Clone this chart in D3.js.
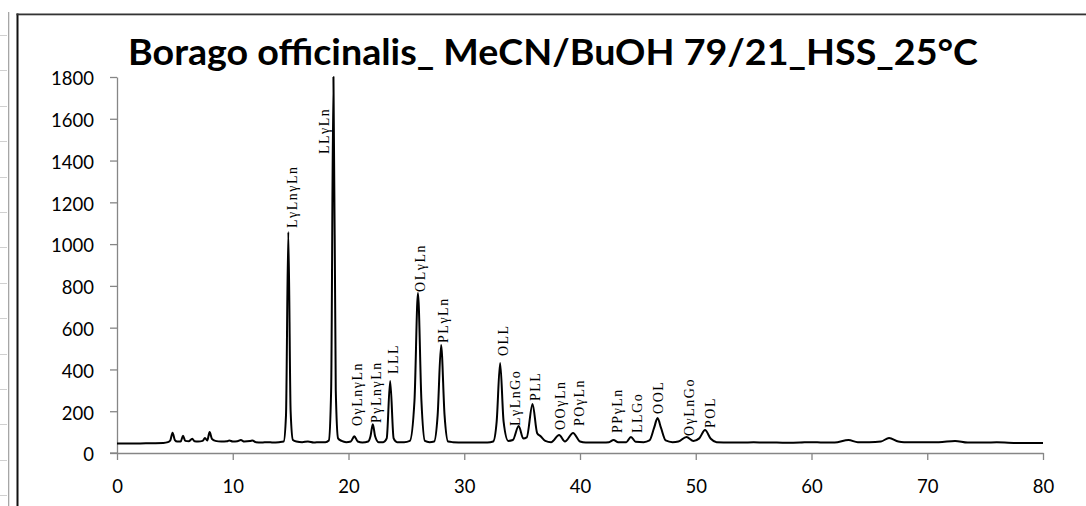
<!DOCTYPE html>
<html><head><meta charset="utf-8">
<script src="https://cdn.jsdelivr.net/npm/d3@7"></script>
<style>
html,body{margin:0;padding:0;background:#fff;}
svg{display:block;}
</style></head>
<body>
<svg id="chart" width="1086" height="506"></svg>
<script>
const titleText = "Borago officinalis_ MeCN/BuOH 79/21_HSS_25°C";
const xTicks = [0,10,20,30,40,50,60,70,80];
const yTicks = [0,200,400,600,800,1000,1200,1400,1600,1800];

// [retention time (min), detector response]
const trace = [
[0,45],[1,45],[2,46],[3,47],[4,48],[4.4,52],[4.6,60],[4.8,97],[5.0,62],[5.2,55],[5.5,55],[5.7,82],[5.9,58],[6.2,56],[6.5,68],[6.7,56],[7.0,55],[7.4,58],[7.6,72],[7.8,60],[8.0,100],[8.2,68],[8.5,58],[9.0,55],[9.5,56],[9.7,60],[10.0,55],[10.4,56],[10.7,62],[11.0,55],[11.5,57],[11.7,60],[12.0,52],[12.5,50],[13.0,52],[13.5,50],[14.0,52],[14.4,55],[14.6,180],[14.8,1058],[15.0,200],[15.2,62],[15.5,55],[16,52],[16.5,55],[17,50],[17.5,52],[18,52],[18.3,60],[18.5,300],[18.7,1800],[18.9,300],[19.1,70],[19.4,58],[19.8,52],[20.2,55],[20.5,80],[20.8,55],[21.2,50],[21.7,55],[21.9,80],[22.1,138],[22.3,80],[22.6,52],[23.0,52],[23.3,70],[23.6,345],[23.9,70],[24.2,52],[24.8,52],[25.3,58],[25.7,250],[26.0,766],[26.3,250],[26.6,58],[27.0,52],[27.4,55],[27.7,180],[28.0,517],[28.3,180],[28.6,55],[29,52],[30,50],[31,50],[32,50],[32.5,55],[32.8,150],[33.1,431],[33.4,150],[33.8,58],[34.2,62],[34.7,129],[35.1,70],[35.4,75],[35.9,235],[36.3,95],[36.6,80],[37.0,58],[37.5,52],[38.2,86],[38.7,55],[39.4,96],[40.0,55],[40.5,50],[41,50],[42,50],[42.5,52],[42.9,62],[43.3,52],[44.0,52],[44.4,77],[44.8,54],[45.5,52],[46.0,60],[46.4,120],[46.7,167],[47.0,120],[47.4,60],[48,52],[48.5,55],[49.2,77],[49.8,58],[50.3,70],[50.8,110],[51.3,68],[51.8,52],[53,50],[54,50],[55,51],[56,50],[57,50],[58,49],[59,50],[60,52],[61,50],[62,50],[63.2,62],[64,52],[65,52],[66,55],[66.7,72],[67.5,55],[68,52],[70,52],[71,52],[72.4,58],[73.5,50],[75,50],[76,51],[78,48],[80,48]
];

// peak labels: [text, time anchor, intensity anchor]
const peakNames = ["LγLnγLn","LLγLn","OγLnγLn","PγLnγLn","LLL","OLγLn","PLγLn","OLL","LγLnGo","PLL","OOγLn","POγLn","PPγLn","LLGo","OOL","OγLnGo","POL"];
const peakT = [15.12,17.88,20.73,22.38,23.84,26.18,28.16,33.35,34.38,36.11,38.27,39.91,43.20,44.92,46.74,49.42,51.23];
const peakV = [1077,1431,129,144,378,771,527,464,129,249,110,129,96,96,187,81,120];

const svg = d3.select("#chart");
const W = 1086, H = 506;

// spreadsheet background remnants
svg.append("rect").attr("x",8).attr("y",12).attr("width",1.3).attr("height",H-12).attr("fill","#a6a6a6");
const rowLines = d3.range(35, H, 35.4);
svg.selectAll("rect.row").data(rowLines).join("rect").attr("class","row")
  .attr("x",0).attr("width",7).attr("y",d=>Math.round(d)).attr("height",1)
  .attr("fill","#d0d0d0");

// chart frame (drawn as filled bars)
svg.append("rect").attr("x",16.5).attr("y",13.5).attr("width",2).attr("height",H-13.5).attr("fill","#111");
svg.append("rect").attr("x",16.5).attr("y",13.5).attr("width",W-16.5).attr("height",1.8).attr("fill","#333");

const x = d3.scaleLinear().domain([0,80]).range([117,1043]);
const y = d3.scaleLinear().domain([0,1800]).range([453,77]);

const font = "Lato, 'Open Sans', sans-serif";

// axes
const gy = svg.append("g").attr("transform","translate(117,0)")
  .call(d3.axisLeft(y).tickValues(yTicks).tickFormat(d3.format("d")).tickSize(7).tickPadding(16).tickSizeOuter(0));
const gx = svg.append("g").attr("transform","translate(0,453)")
  .call(d3.axisBottom(x).tickValues(xTicks).tickFormat(d3.format("d")).tickSize(7).tickPadding(20).tickSizeOuter(0));
[gx,gy].forEach(g=>{
  g.select(".domain").attr("stroke","#868686").attr("stroke-width",1.3);
  g.selectAll(".tick line").attr("stroke","#868686").attr("stroke-width",1.3);
  g.selectAll(".tick text").attr("fill","#000").style("font-family",font).style("font-size","18.5px");
});
svg.append("line").attr("x1",110).attr("x2",117).attr("y1",453).attr("y2",453)
  .attr("stroke","#868686").attr("stroke-width",1.3);
gy.selectAll(".tick text").attr("dy","0.42em");

// trace
const line = d3.line().x(d=>x(d[0])).y(d=>y(d[1])).curve(d3.curveMonotoneX);
svg.append("path").datum(trace).attr("d",line)
  .attr("fill","none").attr("stroke","#000").attr("stroke-width",2).attr("stroke-linejoin","round");

// peak labels
const labels = peakNames.map((n,i)=>({n, t:peakT[i], v:peakV[i]}));
svg.selectAll("text.pk").data(labels).join("text").attr("class","pk")
  .attr("transform",d=>`translate(${x(d.t)},${y(d.v)}) rotate(-90)`)
  .attr("dy","0.33em")
  .attr("text-anchor","start")
  .style("font-family","'Liberation Serif', 'Times New Roman', serif")
  .style("font-size","14px")
  .style("letter-spacing","1.5px")
  .attr("fill","#000")
  .text(d=>d.n);

// title
svg.append("text").attr("x",553).attr("y",65).attr("text-anchor","middle")
  .attr("textLength",850).attr("lengthAdjust","spacingAndGlyphs")
  .style("font-family",font).style("font-weight","bold").style("font-size","37px")
  .attr("fill","#000").text(titleText);
</script>
</body></html>
